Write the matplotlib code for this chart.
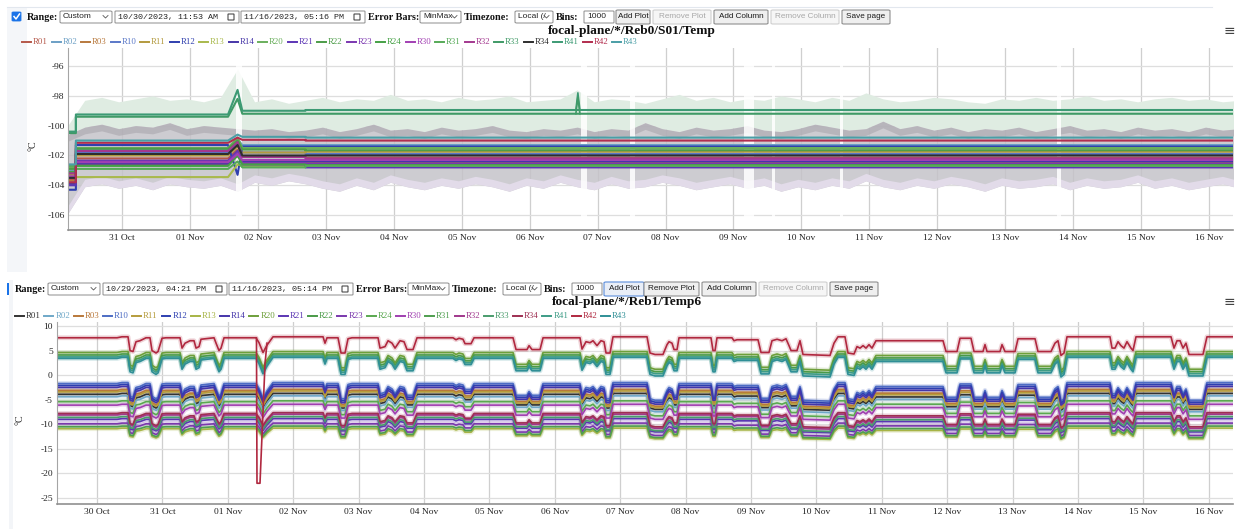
import numpy as np
import matplotlib
matplotlib.use("Agg")
import matplotlib.pyplot as plt
import matplotlib.dates as mdates
from matplotlib.patches import FancyBboxPatch
from matplotlib.lines import Line2D

plt.rcParams["font.family"] = ["Liberation Serif", "DejaVu Serif"]
plt.rcParams["axes.unicode_minus"] = False

W, H = 1235, 529

names = ["R01", "R02", "R03", "R10", "R11", "R12", "R13", "R14", "R20", "R21", "R22",
         "R23", "R24", "R30", "R31", "R32", "R33", "R34", "R41", "R42", "R43"]

# ---------------- top chart: focal-plane/*/Reb0/S01/Temp ----------------
top_colors = ["#b5584a", "#6b9fc5", "#b8793d", "#5a78c8", "#b39a3e", "#2f3fae", "#a9b94c",
              "#4636a8", "#6aaf5c", "#5c35b5", "#4c9c48", "#7b37b0", "#45a145", "#a23fb3",
              "#56aa58", "#a3388f", "#3f9a66", "#2e2e2e", "#3c9a74", "#b22d4e", "#4a9ea6"]
# phase boundaries, days after 31 Oct 00:00
top_phase_days = [-0.80, -0.68, 1.56, 1.70, 1.77, 2.70, 16.40]
top_start = [-103.6, -103.0, -103.7, -103.2, -103.3, -104.3, -103.9, -103.9, -102.8, -104.0, -102.9,
             -103.5, -103.1, -103.4, -102.7, -103.2, -100.5, -103.5, -100.4, -103.8, -102.6]
top_early = [-102.2, -101.6, -102.6, -101.8, -102.0, -101.3, -103.45, -102.55, -101.5, -102.35, -101.55,
             -102.4, -102.7, -102.45, -102.9, -101.7, -99.4, -101.9, -99.25, -101.15, -101.0]
top_bump = [-101.6, -100.9, -102.0, -101.2, -101.4, -103.3, -102.6, -102.0, -100.8, -101.7, -101.0,
            -101.8, -102.0, -101.9, -102.4, -101.1, -98.2, -101.3, -97.6, -100.8, -100.6]
top_mid = [-102.1, -101.3, -102.4, -101.8, -101.8, -101.4, -102.7, -102.4, -101.5, -102.6, -101.6,
           -102.5, -102.6, -102.3, -102.8, -102.1, -99.2, -102.0, -99.0, -100.95, -100.75]
top_late = [-102.15, -101.3, -102.45, -101.9, -101.75, -101.4, -102.6, -102.4, -101.5, -102.8, -101.65,
            -102.55, -102.65, -102.3, -102.7, -102.2, -99.2, -102.0, -98.95, -101.0, -100.8]
# short spike of the two upper sensors on 06/07 Nov
top_spike_days = [6.68, 6.71, 6.74]
top_spike_r41 = [-98.95, -97.8, -98.95]
top_spike_r33 = [-99.2, -98.1, -99.2]

# min/max envelope, 6 h bins starting 30 Oct 04:48
band_days0, band_step = -0.80, 0.25
green_hi = [-100.0,
            -98.3, -98.1, -98.4, -98.2, -98.0, -98.3, -98.2, -98.4, -98.1,
            -96.2,
            -98.4, -98.2, -98.5,
            -98.3, -98.1, -98.4, -98.2, -98.3, -97.9, -98.3, -98.2, -98.4, -98.1,
            -98.3, -98.2, -98.0, -98.4, -98.3, -98.2, -97.6, -98.4, -98.2, -98.3,
            -98.5, -98.2, -97.9, -98.3, -98.1, -98.4, -98.2, -98.3, -98.0, -98.2,
            -98.4, -98.1, -98.3, -97.8, -98.2, -98.4, -98.3, -98.1, -98.2, -98.4,
            -98.5, -98.2, -98.3, -98.1, -98.3, -98.2, -98.0, -98.3, -98.2, -98.4,
            -98.2, -98.1, -98.3, -98.2, -98.4, -98.3]
gray_hi = [-100.6,
           -100.1, -99.9, -100.2, -100.0, -100.1, -99.8, -100.2, -100.0, -100.1,
           -100.2,
           -100.3, -100.2, -100.4,
           -100.3, -100.1, -100.4, -100.2, -99.9, -100.3, -100.2, -100.4, -100.1, -100.3,
           -100.2, -100.0, -100.3, -100.4, -100.2, -100.3, -100.1, -100.4, -100.2, -100.3,
           -99.8, -100.2, -100.4, -100.1, -100.3, -100.2, -100.0, -100.3, -100.4, -100.2,
           -99.9, -100.1, -100.3, -100.2, -99.7, -100.2, -100.0, -100.3, -100.1, -100.4,
           -100.2, -100.3, -100.1, -100.4, -100.2, -100.0, -100.3, -100.2, -100.4, -100.1,
           -100.3, -100.2, -100.4, -100.1, -100.3, -100.2]
gray_lo = [-105.9,
           -104.1, -103.9, -104.2, -104.0, -104.3, -103.9, -104.1, -104.2, -104.0,
           -104.4,
           -103.8, -104.0, -103.7,
           -103.9, -104.2, -104.4, -104.0, -104.3, -103.8, -104.1, -104.3, -104.0, -104.2,
           -103.9, -104.1, -104.4, -104.0, -104.2, -103.8, -104.1, -104.3, -103.9, -104.2,
           -104.1, -103.8, -104.0, -104.3, -104.1, -103.9, -104.2, -104.0, -104.4, -104.1,
           -104.3, -104.0, -104.2, -103.7, -104.1, -104.3, -104.0, -104.2, -103.9, -104.1,
           -104.4, -104.0, -104.2, -104.1, -103.9, -104.3, -104.0, -104.2, -104.1, -103.8,
           -104.2, -104.0, -104.3, -104.1, -103.9, -104.2]
# short holes in the envelope (days after 31 Oct, width in days)
gap_days = [1.72, 6.80, 7.51, 9.23, 9.59, 10.59, 13.79]
gap_width = [0.08, 0.10, 0.08, 0.15, 0.05, 0.05, 0.06]

# ---------------- bottom chart: focal-plane/*/Reb1/Temp6 ----------------
bot_colors = ["#333333", "#6fa8c8", "#b9783a", "#4d6cc4", "#b59c3c", "#2d3fb0", "#a7b445",
              "#4535aa", "#6e9f3a", "#5b36b3", "#4a9a48", "#7a38ad", "#5aa850", "#a03fb0",
              "#4f9e4f", "#a1378c", "#4a9c6c", "#9e2f52", "#3d9c86", "#b0283f", "#2f8f96"]
bot_level = [-3.9, -4.4, -3.1, -1.7, -3.4, -2.1, -10.9, -2.5, 4.6, -9.0, 4.1,
             -9.9, -5.4, -6.1, -10.5, -8.1, -8.6, -7.8, 3.7, 7.6, 3.4]
bot_dip = [0.9, 0.9, 0.95, 1.0, 0.95, 1.0, 0.6, 1.0, 1.0, 0.75, 1.0,
           0.7, 0.85, 0.85, 0.65, 0.8, 0.8, 0.8, 1.0, 1.0, 1.05]
prof_days = [-0.612, 0.306, 0.382, 0.474, 0.505, 0.550, 0.596, 0.657, 0.749, 0.810, 0.841, 0.902,
             0.933, 0.994, 1.055, 1.269, 1.300, 1.346, 1.422, 1.483, 1.514, 1.560, 1.590, 1.789,
             1.820, 1.865, 1.896, 1.942, 2.431, 2.477, 2.538, 2.599, 2.691, 3.456, 3.486, 3.517,
             3.685, 3.731, 3.792, 3.838, 3.899, 4.297, 4.327, 4.404, 4.450, 4.511, 4.557, 4.633,
             4.694, 4.740, 4.832, 4.893, 5.443, 5.489, 5.535, 5.596, 5.627, 5.719, 5.765, 6.361,
             6.407, 6.575, 6.606, 6.651, 6.774, 6.820, 7.385, 7.416, 7.477, 7.538, 7.584, 7.645,
             7.706, 7.752, 7.783, 7.844, 7.890, 8.410, 8.456, 8.532, 8.654, 8.716, 8.746, 8.792,
             8.823, 8.869, 8.899, 9.388, 9.419, 9.450, 9.480, 9.709, 9.740, 9.786, 10.107, 10.153,
             10.275, 10.321, 10.398, 10.474, 10.535, 10.581, 10.612, 10.703, 10.749, 10.795, 11.208,
             11.269, 11.330, 11.437, 11.483, 11.575, 11.621, 11.667, 11.713, 11.758, 11.804, 11.850,
             11.911, 12.936, 12.982, 13.150, 13.196, 13.364, 13.410, 13.547, 13.578, 13.609, 13.807,
             13.838, 13.884, 14.037, 14.083, 14.343, 14.388, 14.587, 14.648, 14.694, 14.740, 14.786,
             14.832, 15.489, 15.520, 15.566, 15.612, 15.657, 15.703, 15.749, 15.810, 15.841, 15.887,
             16.422, 16.468, 16.514, 16.560, 16.606, 16.651, 16.697, 16.911, 16.972, 17.370]
prof_delta = [0, 0, 0.2, 0.2, -2.6, -2.8, -0.8, -0.6, 0, 0, -2.6, -3.1,
              -2.8, -0.1, 0, 0, -2.1, -1.1, -0.6, -0.6, -2.1, -1.8, -0.3, 0,
              -1.1, -2.6, -2.1, 0, 0, -1.0, -3.0, -1.5, 0.2, 0.2, -1.1, 0,
              0, -3.1, -3.1, -0.2, 0, 0, -2.1, -1.8, -0.6, -1.1, -2.1, -0.6,
              -0.8, -2.4, -2.4, 0, 0, -0.4, -0.1, -0.3, -1.2, -1.2, 0, 0,
              -2.4, -2.4, -1.6, -2.4, -2.4, 0, 0, -2.3, -0.8, -1.0, -0.6, -1.6,
              -0.6, -0.8, -3.1, -3.1, 0.2, 0.2, -3.1, -3.4, -3.4, -1.4, -0.8, -1.1,
              -2.4, -2.4, 0, 0, -2.6, -2.6, 0, 0, -0.6, -0.4, -0.4, -3.0,
              -3.0, -0.6, -0.3, -0.6, -0.2, -1.6, -2.6, -2.6, -0.6, -3.4, -3.6,
              -1.1, 0.2, 0.2, -3.1, -3.3, -1.8, -2.1, -1.6, -2.1, -1.4, -2.1,
              -0.6, -0.6, -2.8, -2.8, -0.1, -0.1, -2.8, -2.8, -1.4, -2.8, -2.8,
              -1.4, -2.8, -2.8, -0.2, -0.2, -2.8, -2.8, -1.1, -0.6, -3.6, -3.1,
              0.2, 0.2, -2.1, -2.1, -0.8, -1.6, -2.1, -0.8, -2.1, -2.6, 0.2,
              0.2, -2.1, -0.6, -0.6, -2.1, -1.1, -3.4, -3.4, 0.2, 0.2]
# single sample drop of R42 on 01 Nov
spike_days = [2.438, 2.446, 2.492, 2.569, 2.599]
spike_vals = [7.6, -22.0, -22.0, 2.4, 6.5]

# ---------------------------------------------------------------------------
fig = plt.figure(figsize=(W / 100, H / 100), dpi=100)
fig.patch.set_facecolor("white")


def fx(x):
    return x / W


def fy(y):
    return 1 - y / H


def rect(x0, y0, x1, y1, fc, ec="none", lw=0.8, r=0.0):
    p = FancyBboxPatch((fx(x0), fy(y1)), (x1 - x0) / W, (y1 - y0) / H,
                       boxstyle="round,pad=0,rounding_size=%g" % (r / W),
                       transform=fig.transFigure, fc=fc, ec=ec, lw=lw, zorder=3)
    fig.add_artist(p)


def line(xs, ys, color, lw=1.0):
    fig.add_artist(Line2D([fx(v) for v in xs], [fy(v) for v in ys], color=color, lw=lw,
                          transform=fig.transFigure, zorder=4))


def txt(x, y, s, size=6.5, color="#111111", weight="normal", family=None, ha="left", rot=0):
    kw = {}
    if family:
        kw["family"] = family
    fig.text(fx(x), fy(y), s, fontsize=size, color=color, weight=weight, va="center", ha=ha,
             rotation=rot, **kw)


# page furniture
rect(7, 7, 27, 272, "#f4f6f9")
line([7, 1212], [7, 7], "#e2e7ee", 0.8)
rect(9, 280, 13, 529, "#f3f5f8")


def select(x0, x1, y, label):
    rect(x0, y - 6, x1, y + 6, "white", "#8c8c8c", 0.7, 2)
    txt(x0 + 3, y, label, 6.0, "#222222", family=["Liberation Sans", "DejaVu Sans"])
    line([x1 - 9, x1 - 6.5, x1 - 4], [y - 1.5, y + 1, y - 1.5], "#555555", 0.6)


def dateinput(x0, x1, y, label):
    rect(x0, y - 6, x1, y + 6, "white", "#8c8c8c", 0.7, 1)
    txt(x0 + 3, y, label, 6.0, "#222222", family=["Liberation Mono", "DejaVu Sans Mono"])
    rect(x1 - 11, y - 3, x1 - 5, y + 3, "white", "#333333", 0.7)


def button(x0, x1, y, label, enabled=True, focus=False):
    ec = "#5b8ddb" if focus else ("#8f8f8f" if enabled else "#cfcfcf")
    fc = "#e9eef7" if focus else ("#efefef" if enabled else "#f6f6f6")
    rect(x0, y - 7, x1, y + 7, fc, ec, 0.8, 2)
    txt((x0 + x1) / 2, y, label, 5.9, "#1a1a1a" if enabled else "#a8a8a8",
        family=["Liberation Sans", "DejaVu Sans"], ha="center")


def controls(y, o, d1, d2, remove_plot, focus):
    txt(27 + o, y, "Range:", 7.3, weight="bold")
    select(60 + o, 112 + o, y, "Custom")
    dateinput(115 + o, 239 + o, y, d1)
    dateinput(241 + o, 365 + o, y, d2)
    txt(368 + o, y, "Error Bars:", 7.3, weight="bold")
    select(420 + o, 461 + o, y, "MinMax")
    txt(464 + o, y, "Timezone:", 7.3, weight="bold")
    select(515 + o, 553 + o, y, "Local (/")
    txt(556 + o, y, "Bins:", 7.3, weight="bold")
    rect(584 + o, y - 6, 614 + o, y + 6, "white", "#8c8c8c", 0.7, 1)
    txt(587 + o, y, "1000", 6.0, "#222222", family=["Liberation Sans", "DejaVu Sans"])
    button(616 + o, 650 + o + (6 if focus else 0), y, "Add Plot", True, focus)
    button(653 + o + (3 if focus else 0), 708 + o + 3, y, "Remove Plot", remove_plot)
    button(711 + o + 3, 765 + o + 3, y, "Add Column")
    button(768 + o + 3, 836 + o + 3, y, "Remove Column", False)
    button(839 + o + 3, 887 + o + 3, y, "Save page")


# top controls row with checkbox
rect(12, 12, 21, 21, "#1a73e8", "#1a73e8", 0.6, 1.5)
line([14, 16, 19.5], [16.5, 19, 14], "white", 1.1)
controls(17, 0, "10/30/2023, 11:53 AM", "11/16/2023, 05:16 PM", False, False)
rect(7, 283, 9, 295, "#1a73e8")
controls(289, -12, "10/29/2023, 04:21 PM", "11/16/2023, 05:14 PM", True, True)

# titles, menu icons, legends
txt(632, 31, "focal-plane/*/Reb0/S01/Temp", 9.6, "#111111", weight="bold", ha="center")
txt(627, 302, "focal-plane/*/Reb1/Temp6", 9.6, "#111111", weight="bold", ha="center")
txt(1229, 31, "\u2261", 10, "#444444", family=["DejaVu Sans"], ha="center")
txt(1229, 302, "\u2261", 10, "#444444", family=["DejaVu Sans"], ha="center")


def legend(x0, y, stride, colors):
    for i, (n, c) in enumerate(zip(names, colors)):
        x = x0 + i * stride
        line([x, x + 9], [y, y], c, 1.4)
        txt(x + 11, y, n, 6.4, c)


legend(22, 42, 29.5, top_colors)
legend(15, 316, 29.3, bot_colors)

txt(33, 146, "\u00b0C", 7.2, "#222222", ha="center", rot=90)
txt(20, 420, "\u00b0C", 7.2, "#222222", ha="center", rot=90)

# ---------------- axes ----------------
t31 = mdates.date2num(np.datetime64("2023-10-31"))
t30 = mdates.date2num(np.datetime64("2023-10-30"))

ax1 = fig.add_axes([fx(68), fy(230), 1165 / W, 182 / H])
ax2 = fig.add_axes([fx(57), fy(504), 1176 / W, 182 / H])


def style(ax, xlim, ylim, yticks, ypad):
    ax.set_xlim(xlim)
    ax.set_ylim(ylim)
    ax.set_yticks(yticks)
    ax.xaxis.set_major_locator(mdates.DayLocator())
    ax.xaxis.set_major_formatter(mdates.DateFormatter("%d %b"))
    for s in ["top", "right"]:
        ax.spines[s].set_visible(False)
    ax.spines["left"].set_color("#a5a5a5")
    ax.spines["bottom"].set_color("#909090")
    ax.spines["bottom"].set_linewidth(1.2)
    ax.grid(True, axis="x", color="#cfcfcf", lw=0.9)
    ax.grid(True, axis="y", color="#dedede", lw=0.9)
    ax.set_axisbelow(True)
    ax.tick_params(axis="x", length=0, labelsize=6.8, labelcolor="#222222", pad=3)
    ax.tick_params(axis="y", length=0, labelsize=6.8, labelcolor="#222222", pad=ypad)
    ax.set_facecolor("none")


style(ax1, (t31 - 0.796, t31 + 16.354), (-107.0, -94.79), [-106, -104, -102, -100, -98, -96], 2.5)
style(ax2, (t30 - 0.612, t30 + 17.370), (-26.22, 10.81), [-25, -20, -15, -10, -5, 0, 5, 10], 3)

# top: envelopes
bx_band = t31 + band_days0 + band_step * np.arange(len(green_hi))
ax1.fill_between(bx_band, green_hi, gray_hi, color="#dfece2", lw=0, zorder=1)
ax1.fill_between(bx_band, gray_hi, gray_lo, color="#c5c3c9", alpha=0.85, lw=0, zorder=1)
ax1.fill_between(bx_band, np.array(gray_lo) + 0.5, gray_lo, color="#e2dbe9", lw=0, zorder=1.1)
ax1.fill_between(bx_band, np.array(gray_hi) - 0.45, gray_hi, color="#a9a6ad", alpha=0.6, lw=0, zorder=1.1)
for g, w in zip(gap_days, gap_width):
    ax1.axvspan(t31 + g - w / 2, t31 + g + w / 2, color="white", alpha=0.85, lw=0, zorder=1.5)

# top: series
pt = t31 + np.array(top_phase_days)
idx = [0, 1, 1, 2, 3, 4, 5, 5, 6]
for i, n in enumerate(names):
    ys = [top_start[i], top_start[i], top_early[i], top_early[i], top_bump[i],
          top_mid[i], top_mid[i], top_late[i], top_late[i]]
    ax1.plot(pt[idx], ys, color=top_colors[i], lw=1.5, zorder=2)
ax1.plot(t31 + np.array(top_spike_days), top_spike_r41, color=top_colors[names.index("R41")], lw=1.2, zorder=2)
ax1.plot(t31 + np.array(top_spike_days), top_spike_r33, color=top_colors[names.index("R33")], lw=1.2, zorder=2)

# bottom: series
bx = t30 + np.array(prof_days)
delta = np.array(prof_delta)
for i, n in enumerate(names):
    y = bot_level[i] + bot_dip[i] * delta
    ax2.plot(bx, y, color=bot_colors[i], lw=3.4, alpha=0.2, zorder=2)
    ax2.plot(bx, y, color=bot_colors[i], lw=1.2, zorder=2.2)
ax2.plot(t30 + np.array(spike_days), spike_vals, color=bot_colors[names.index("R42")], lw=1.2, zorder=2.3)

fig.savefig("out.png", dpi=100, facecolor="white")
